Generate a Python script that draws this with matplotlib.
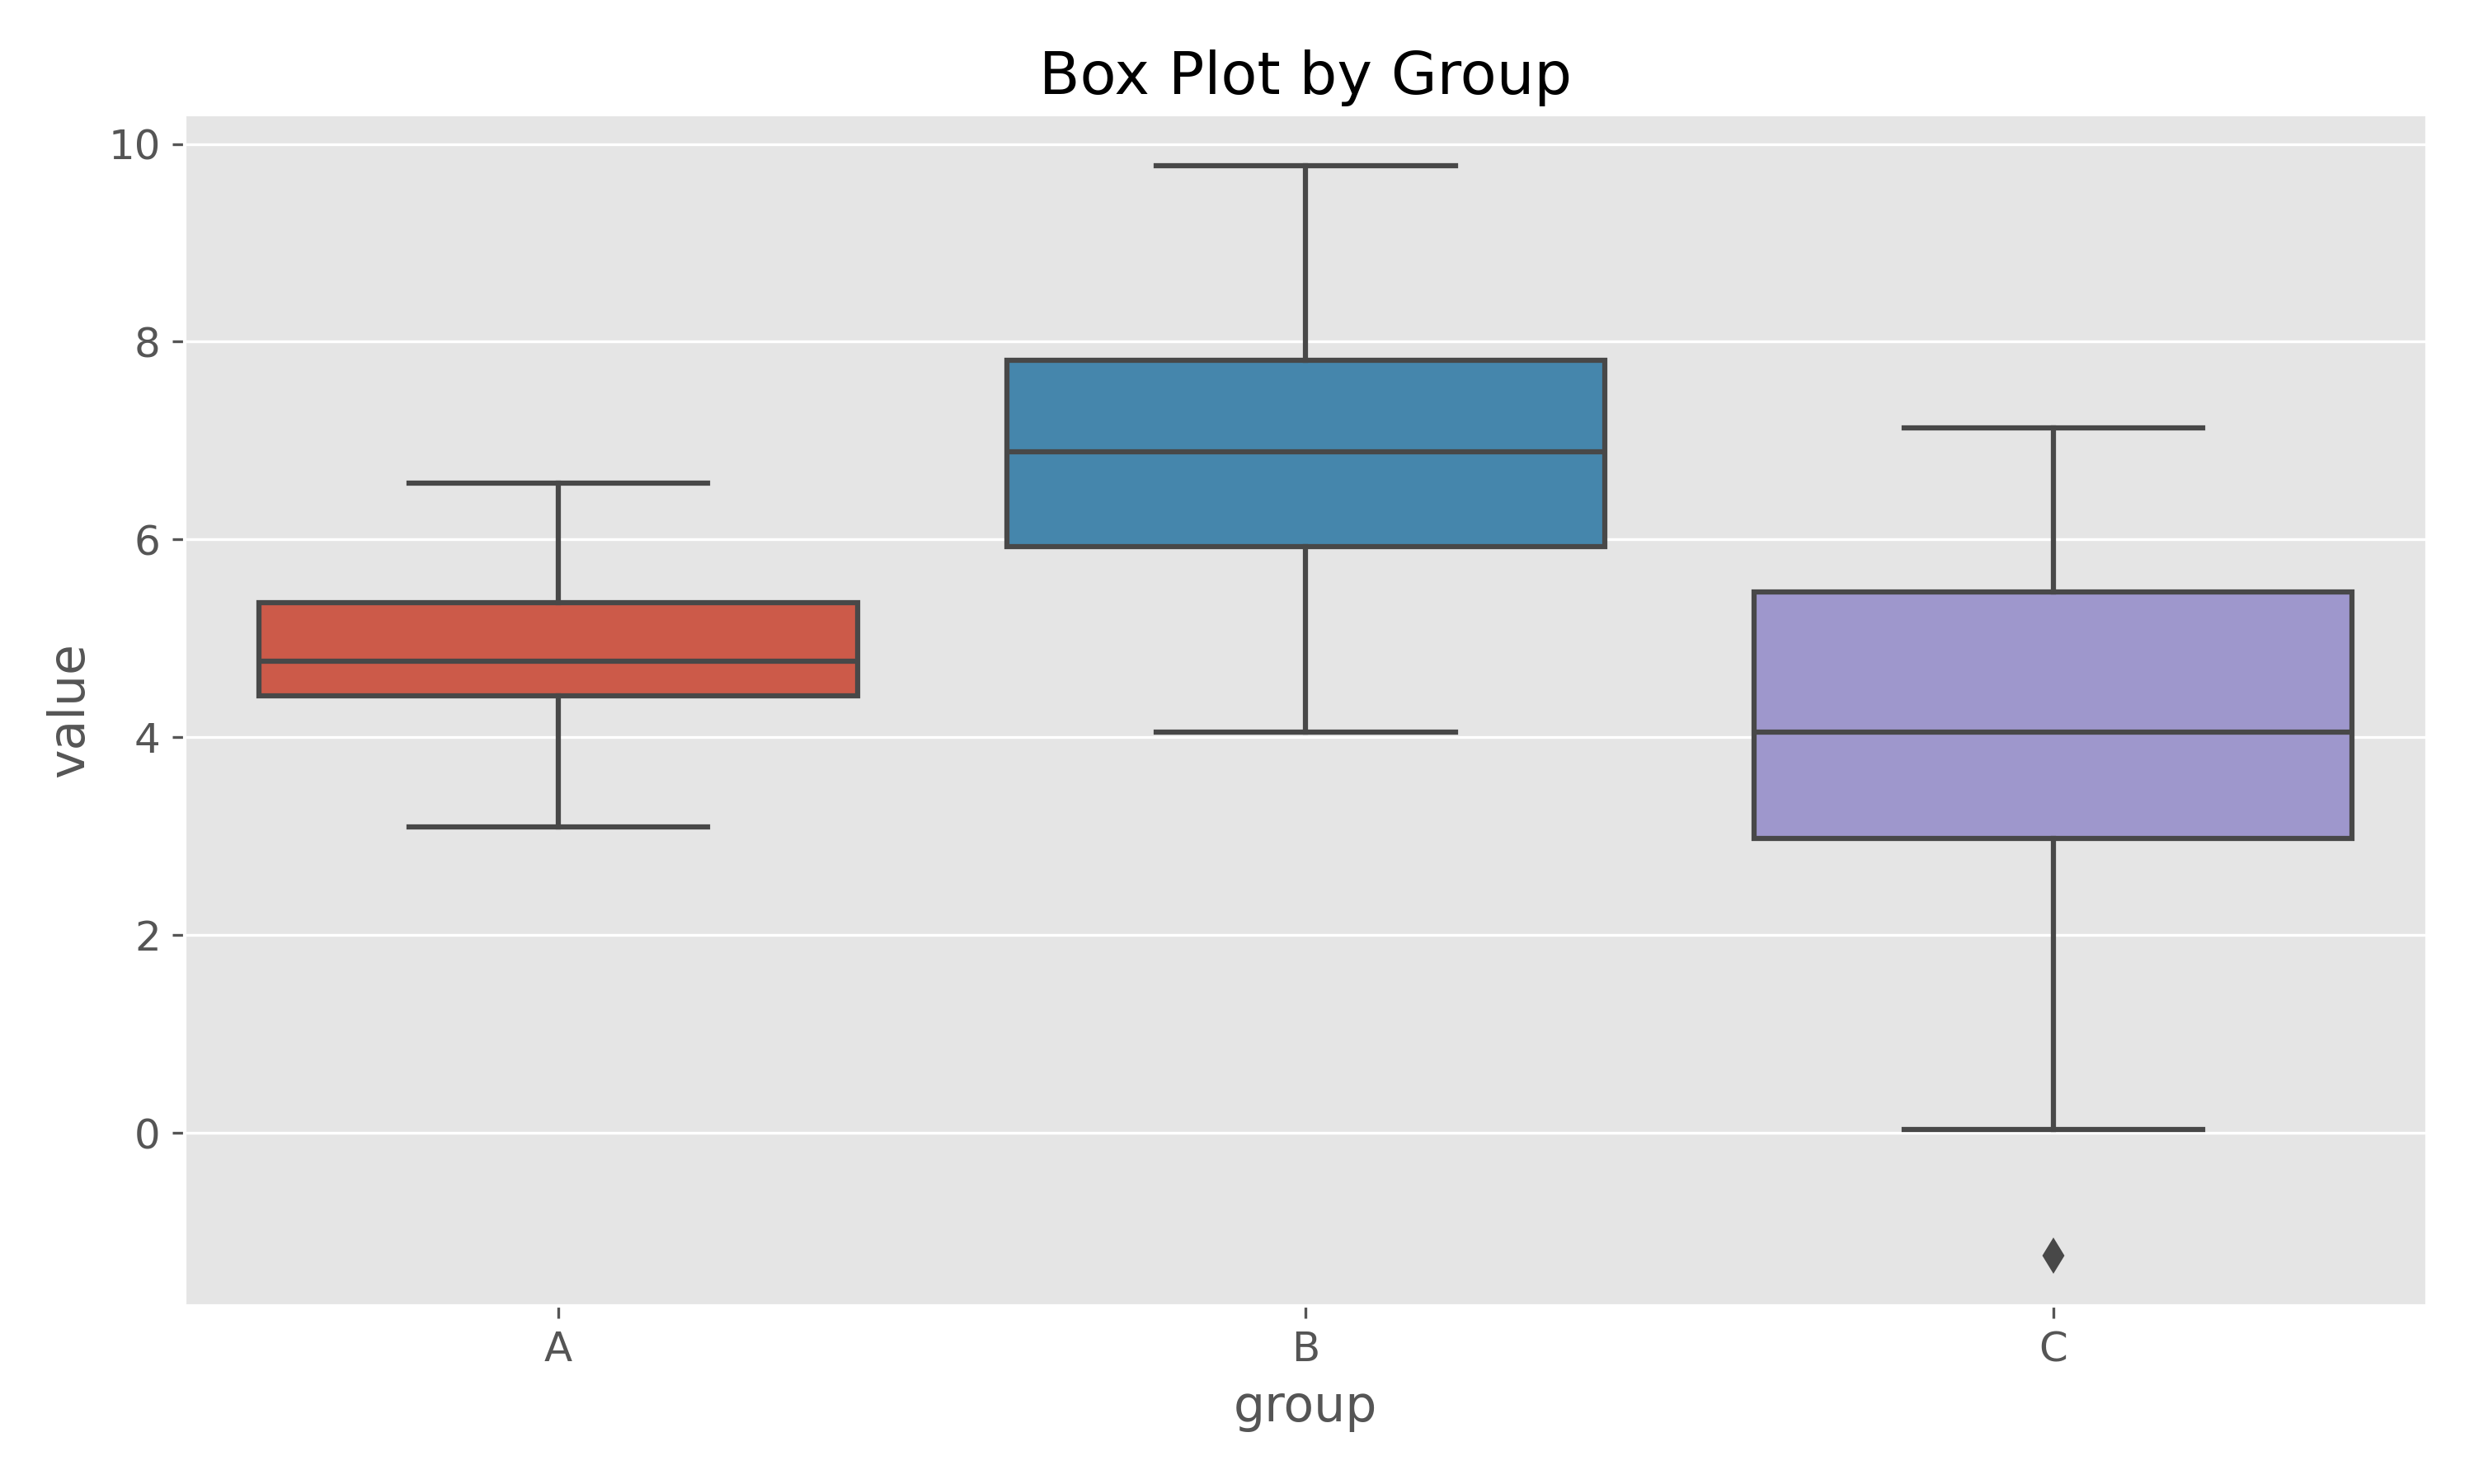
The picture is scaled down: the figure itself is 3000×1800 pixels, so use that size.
# Box plot por grupo, estilo ggplot
import colorsys
import numpy as np
import matplotlib
matplotlib.use("Agg")
import matplotlib.pyplot as plt
import matplotlib.colors as mcolors

plt.style.use("ggplot")
plt.rcParams["font.size"] = 12

# Datos (estadisticos de cada caja)
grupos = ["A", "B", "C"]
bigote_inf = [3.09, 4.05, 0.03]
q1 = [4.42, 5.93, 2.98]
mediana = [4.77, 6.89, 4.05]
q3 = [5.36, 7.81, 5.47]
bigote_sup = [6.57, 9.78, 7.13]
atipicos = [[], [], [-1.24]]

colores_base = ["#E24A33", "#348ABD", "#988ED5"]

# Se reduce la saturacion como hace seaborn (0.75)
def desaturar(c, prop=0.75):
    r, g, b = mcolors.to_rgb(c)
    h, l, s = colorsys.rgb_to_hls(r, g, b)
    return colorsys.hls_to_rgb(h, l, s * prop)

colores = [desaturar(c) for c in colores_base]
lum = min(colorsys.rgb_to_hls(*c)[1] for c in colores) * 0.6
gris = (lum, lum, lum)

stats = []
for i in range(len(grupos)):
    stats.append(dict(label=grupos[i], whislo=bigote_inf[i], q1=q1[i], med=mediana[i],
                      q3=q3[i], whishi=bigote_sup[i], fliers=atipicos[i]))

fig, ax = plt.subplots(figsize=(10, 6), dpi=300)
fig.subplots_adjust(left=0.0746, right=0.981, top=0.923, bottom=0.12)

pos = np.arange(len(grupos))
lw = 1.5
bp = ax.bxp(stats, positions=pos, widths=0.8, capwidths=0.4, patch_artist=True,
            boxprops=dict(edgecolor=gris, linewidth=lw),
            medianprops=dict(color=gris, linewidth=lw),
            whiskerprops=dict(color=gris, linewidth=lw),
            capprops=dict(color=gris, linewidth=lw),
            flierprops=dict(marker="d", markerfacecolor=gris, markeredgecolor=gris,
                            markersize=6, linestyle="none"))
for caja, c in zip(bp["boxes"], colores):
    caja.set_facecolor(c)

ax.set_xlim(-0.5, 2.5)
ax.set_ylim(-1.75, 10.3)
ax.set_xticks(pos)
ax.set_xticklabels(grupos)
ax.set_yticks([0, 2, 4, 6, 8, 10])
ax.grid(axis="x", visible=False)
ax.set_axisbelow(True)
ax.set_xlabel("group")
ax.set_ylabel("value")
ax.set_title("Box Plot by Group", color="black")

fig.savefig("out.png", dpi=300)
plt.close()
